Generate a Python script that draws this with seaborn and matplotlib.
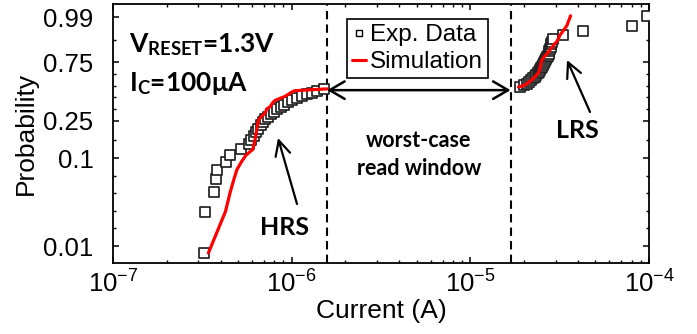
import numpy as np
import pandas as pd
import matplotlib
matplotlib.use("Agg")
import matplotlib.pyplot as plt
from matplotlib.lines import Line2D
from matplotlib.ticker import FixedLocator, FixedFormatter, LogLocator, NullFormatter
import seaborn as sns

# ---- cumulative probability of each cell (HRS lower half, LRS upper half)
hrs_prob = [0.0083, 0.0250, 0.0417, 0.0583, 0.0750, 0.0917, 0.1083, 0.1250, 0.1417, 0.1583,
            0.1750, 0.1917, 0.2083, 0.2250, 0.2417, 0.2583, 0.2750, 0.2917, 0.3083, 0.3250,
            0.3417, 0.3583, 0.3750, 0.3917, 0.4083, 0.4250, 0.4417, 0.4583, 0.4750, 0.4917]
lrs_prob = [0.5083, 0.5250, 0.5417, 0.5583, 0.5750, 0.5917, 0.6083, 0.6250, 0.6417, 0.6583,
            0.6750, 0.6917, 0.7083, 0.7250, 0.7417, 0.7583, 0.7750, 0.7917, 0.8083, 0.8250,
            0.8417, 0.8583, 0.8750, 0.8917, 0.9083, 0.9250, 0.9417, 0.9583, 0.9750, 0.9917]

# ---- measured read current (A)
hrs_exp = [3.23e-7, 3.27e-7, 3.67e-7, 3.77e-7, 3.83e-7, 4.29e-7, 4.52e-7, 5.18e-7, 5.77e-7, 5.92e-7,
           6.15e-7, 6.31e-7, 6.48e-7, 6.73e-7, 6.91e-7, 7.09e-7, 7.37e-7, 7.66e-7, 7.96e-7, 8.27e-7,
           8.71e-7, 9.06e-7, 9.54e-7, 1.00e-6, 1.07e-6, 1.14e-6, 1.22e-6, 1.30e-6, 1.39e-6, 1.52e-6]
lrs_exp = [1.90e-5, 2.00e-5, 2.07e-5, 2.13e-5, 2.18e-5, 2.24e-5, 2.30e-5, 2.33e-5, 2.39e-5, 2.42e-5,
           2.45e-5, 2.48e-5, 2.52e-5, 2.55e-5, 2.58e-5, 2.61e-5, 2.65e-5, 2.68e-5, 2.72e-5, 2.75e-5,
           2.77e-5, 2.79e-5, 2.83e-5, 2.84e-5, 2.86e-5, 2.90e-5, 3.30e-5, 4.27e-5, 8.02e-5, 9.73e-5]

# ---- simulated read current (A)
hrs_sim = [3.42e-7, 4.26e-7, 4.53e-7, 4.75e-7, 4.94e-7, 5.24e-7, 5.55e-7, 6.06e-7, 6.15e-7, 6.23e-7,
           6.30e-7, 6.35e-7, 6.39e-7, 6.44e-7, 6.48e-7, 6.56e-7, 6.78e-7, 7.00e-7, 7.18e-7, 7.23e-7,
           7.56e-7, 7.71e-7, 7.86e-7, 8.07e-7, 8.60e-7, 9.17e-7, 9.54e-7, 9.91e-7, 1.04e-6, 1.58e-6]
lrs_sim = [1.86e-5, 2.01e-5, 2.07e-5, 2.14e-5, 2.20e-5, 2.25e-5, 2.30e-5, 2.35e-5, 2.39e-5, 2.42e-5,
           2.44e-5, 2.45e-5, 2.46e-5, 2.48e-5, 2.49e-5, 2.50e-5, 2.53e-5, 2.57e-5, 2.62e-5, 2.70e-5,
           2.75e-5, 2.81e-5, 2.88e-5, 2.94e-5, 3.04e-5, 3.11e-5, 3.17e-5, 3.30e-5, 3.47e-5, 3.64e-5]

# read window limits (A) and the probability level of the window arrow
window_lo = 1.58e-6
window_hi = 1.68e-5
window_prob = 0.48

prob_ticks = [0.01, 0.1, 0.25, 0.75, 0.99]
prob_labels = ["0.01", "0.1", "0.25", "0.75", "0.99"]

exp_df = pd.DataFrame({"current": hrs_exp + lrs_exp,
                       "prob": hrs_prob + lrs_prob,
                       "state": ["HRS"] * len(hrs_exp) + ["LRS"] * len(lrs_exp)})
sim_df = pd.DataFrame({"current": hrs_sim + lrs_sim,
                       "prob": hrs_prob + lrs_prob,
                       "state": ["HRS"] * len(hrs_sim) + ["LRS"] * len(lrs_sim)})

sns.set_theme(style="ticks")
plt.rcParams.update({
    "font.family": ["Liberation Sans", "DejaVu Sans"],
    "text.color": "black",
    "axes.labelcolor": "black",
    "mathtext.fontset": "custom",
    "mathtext.rm": "Lato",
    "mathtext.bf": "Lato:bold",
    "mathtext.it": "Lato:italic",
    "axes.linewidth": 1.3,
    "axes.edgecolor": "black",
    "xtick.direction": "in",
    "ytick.direction": "in",
    "xtick.top": True,
    "ytick.right": True,
    "xtick.color": "black",
    "ytick.color": "black",
    "xtick.labelcolor": "black",
    "ytick.labelcolor": "black",
    "xtick.major.size": 4.0,
    "ytick.major.size": 4.0,
    "xtick.minor.size": 2.3,
    "ytick.minor.size": 2.3,
    "xtick.major.width": 1.1,
    "ytick.major.width": 1.1,
    "xtick.minor.width": 1.0,
    "ytick.minor.width": 1.0,
})


# Weibull probability axis: ln(-ln(1-F))
def weibull_fwd(p):
    p = np.clip(np.asarray(p, dtype=float), 1e-12, 1 - 1e-12)
    return np.log(-np.log(1.0 - p))


def weibull_inv(t):
    return 1.0 - np.exp(-np.exp(np.asarray(t, dtype=float)))


W, H = 697, 334
fig = plt.figure(figsize=(W / 100, H / 100), dpi=100)
ax = fig.add_axes([113 / W, 1 - 263 / H, 536 / W, 259 / H])

sns.scatterplot(data=exp_df, x="current", y="prob", marker="s", s=50,
                facecolor="white", edgecolor="#222222", linewidth=1.25,
                ax=ax, zorder=3, legend=False)
for state in ["HRS", "LRS"]:
    sns.lineplot(data=sim_df[sim_df["state"] == state], x="current", y="prob",
                 estimator=None, sort=False, color="#ff0000", linewidth=2.3,
                 ax=ax, zorder=4, legend=False)

ax.set_xscale("log")
ax.set_yscale("function", functions=(weibull_fwd, weibull_inv))
ax.set_xlim(1e-7, 1e-4)
ax.set_ylim(weibull_inv(-5.055), weibull_inv(1.883))

# y ticks with minor subdivisions in transformed space
ax.yaxis.set_major_locator(FixedLocator(prob_ticks))
ax.yaxis.set_major_formatter(FixedFormatter(prob_labels))
t_major = weibull_fwd(prob_ticks)
minor_t = []
for a, b, n in zip(t_major[:-1], t_major[1:], [5, 2, 5, 2]):
    minor_t.extend(np.linspace(a, b, n + 1)[1:-1])
ax.yaxis.set_minor_locator(FixedLocator(weibull_inv(minor_t)))
ax.yaxis.set_minor_formatter(NullFormatter())
ax.xaxis.set_major_locator(LogLocator(base=10, numticks=10))
ax.xaxis.set_minor_locator(LogLocator(base=10, subs=np.arange(2, 10), numticks=20))
ax.xaxis.set_minor_formatter(NullFormatter())

ax.tick_params(axis="y", which="major", labelsize=18.5, pad=14)
ax.tick_params(axis="x", which="major", labelsize=18.5, pad=5)
ax.set_xlabel("Current (A)", fontsize=19, labelpad=1)
ax.set_ylabel("Probability", fontsize=19, labelpad=4)

# read window boundaries
for xv in (window_lo, window_hi):
    ax.axvline(xv, color="black", linestyle=(0, (4, 2.5)), linewidth=1.5, zorder=2)

ax.annotate("", xy=(window_hi, window_prob), xytext=(window_lo, window_prob),
            arrowprops=dict(arrowstyle="<->,head_length=0.6,head_width=0.35",
                            color="black", lw=1.8, shrinkA=0, shrinkB=0,
                            mutation_scale=18), zorder=5)


def frac(px, py):
    return ((px - 113) / 536, (263 - py) / 259)


bold = dict(family=["Lato", "DejaVu Sans"], fontweight="bold", color="black")
ax.text(*frac(129, 45), r"$\mathbf{V}_{\mathbf{RESET}}$=1.3V", transform=ax.transAxes,
        ha="left", va="center", fontsize=19, **bold)
ax.text(*frac(129, 83), r"$\mathbf{I}_{\mathbf{C}}$=100μA", transform=ax.transAxes,
        ha="left", va="center", fontsize=19, **bold)
ax.text(*frac(419, 140), "worst-case", transform=ax.transAxes,
        ha="center", va="center", fontsize=15.5, **bold)
ax.text(*frac(419, 168), "read window", transform=ax.transAxes,
        ha="center", va="center", fontsize=15.5, **bold)
ax.text(*frac(285, 227), "HRS", transform=ax.transAxes,
        ha="center", va="center", fontsize=18, **bold)
ax.text(*frac(577, 130), "LRS", transform=ax.transAxes,
        ha="center", va="center", fontsize=18, **bold)

arrow_kw = dict(arrowstyle="->,head_length=0.6,head_width=0.3", color="black",
                lw=1.6, shrinkA=0, shrinkB=0, mutation_scale=18)
ax.annotate("", xy=frac(278, 138), xytext=frac(297, 204),
            xycoords="axes fraction", textcoords="axes fraction", arrowprops=arrow_kw)
ax.annotate("", xy=frac(567, 60), xytext=frac(590, 112),
            xycoords="axes fraction", textcoords="axes fraction", arrowprops=arrow_kw)

handles = [Line2D([], [], marker="s", linestyle="none", markersize=5,
                  markerfacecolor="white", markeredgecolor="black", markeredgewidth=1.0),
           Line2D([], [], color="#ff0000", linewidth=2.2)]
leg = ax.legend(handles, ["Exp. Data", "Simulation"], loc="upper left",
                bbox_to_anchor=frac(346.7, 19.3), fontsize=17.5, frameon=True,
                fancybox=False, shadow=False, framealpha=1, edgecolor="black",
                handlelength=0.6, handletextpad=0.15, borderpad=0.2,
                labelspacing=0.2, borderaxespad=0)
leg.get_frame().set_linewidth(1.2)
for txt in leg.get_texts():
    txt.set_color("black")

fig.savefig("out.png", dpi=100)
